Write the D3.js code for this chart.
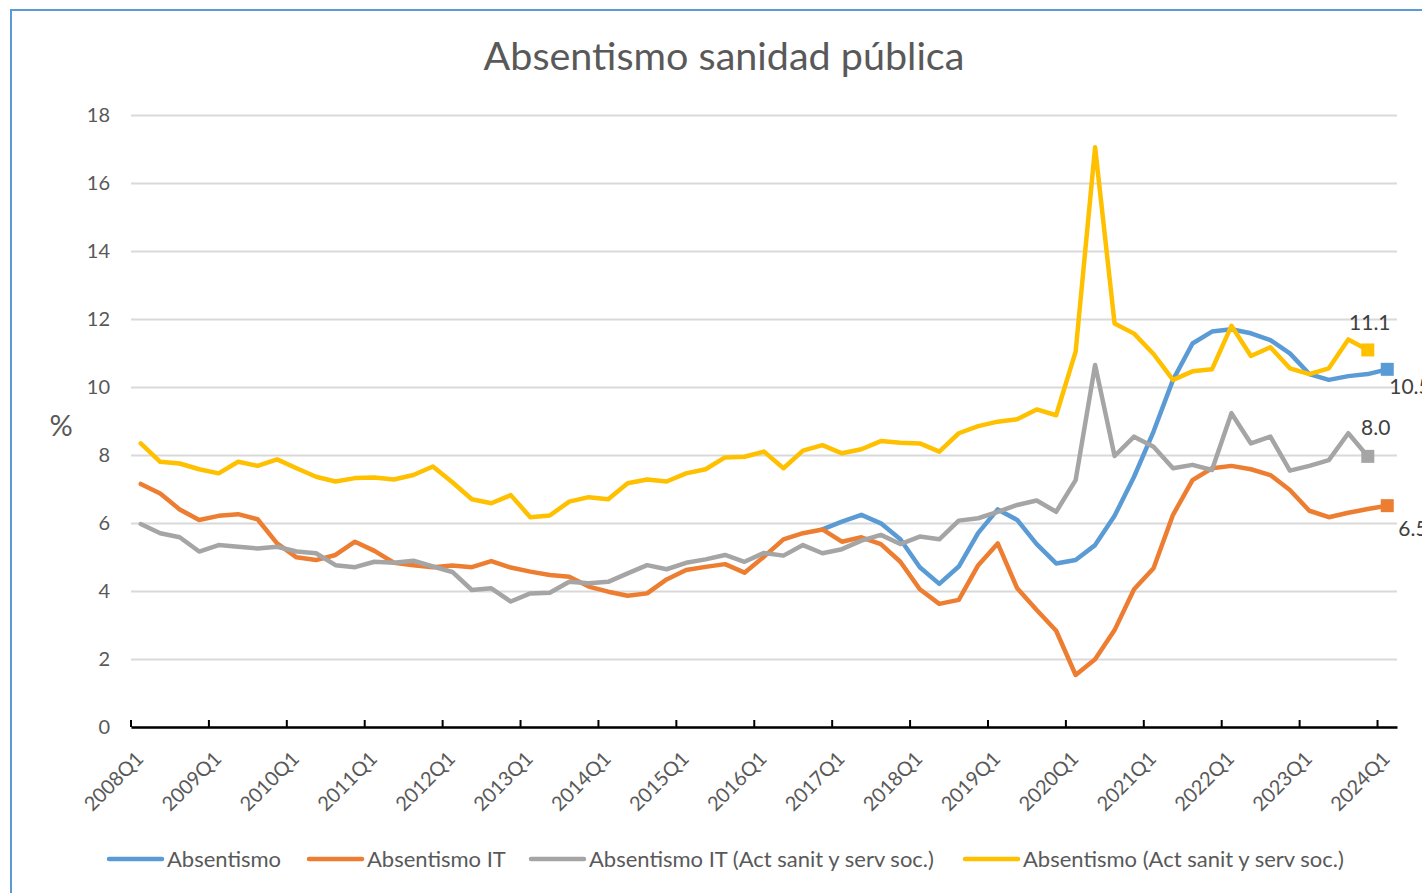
<!DOCTYPE html>
<html>
<head>
<meta charset="utf-8">
<script src="https://cdn.jsdelivr.net/npm/d3@7"></script>
<style>
  body { margin: 0; background: #fff; }
  svg { display: block; font-family: Lato, "Open Sans", sans-serif; }
</style>
</head>
<body>
<div id="chart"></div>
<script>
// Quarters 2008Q1 .. 2024Q1
const years = d3.range(2008, 2025);
const quarters = [];
years.forEach(y => [1, 2, 3, 4].forEach(q => quarters.push(y + "Q" + q)));
quarters.length = 65;

const tickLabels = quarters.filter(q => q.endsWith("Q1"));
const yTicks = [0, 2, 4, 6, 8, 10, 12, 14, 16, 18];

// Absentismo (only visible from 2016Q4, hidden under IT before)
const absentismo = [
  null, null, null, null, null, null, null, null, null, null,
  null, null, null, null, null, null, null, null, null, null,
  null, null, null, null, null, null, null, null, null, null,
  null, null, null, null, null, 5.81, 6.04, 6.24, 5.99, 5.52,
  4.70, 4.21, 4.72, 5.71, 6.40, 6.09, 5.38, 4.81, 4.91, 5.35,
  6.21, 7.36, 8.69, 10.21, 11.28, 11.63, 11.70, 11.58, 11.38, 10.99,
  10.38, 10.21, 10.32, 10.38, 10.52
];

// Absentismo IT
const absentismoIT = [
  7.15, 6.87, 6.40, 6.09, 6.21, 6.26, 6.11, 5.40, 4.99, 4.91,
  5.06, 5.45, 5.18, 4.83, 4.76, 4.70, 4.75, 4.70, 4.88, 4.69,
  4.57, 4.47, 4.42, 4.13, 3.98, 3.86, 3.93, 4.34, 4.62, 4.71,
  4.79, 4.54, 5.01, 5.52, 5.70, 5.81, 5.45, 5.58, 5.38, 4.86,
  4.05, 3.62, 3.74, 4.76, 5.40, 4.08, 3.44, 2.83, 1.53, 1.99,
  2.85, 4.05, 4.67, 6.24, 7.26, 7.61, 7.68, 7.58, 7.41, 6.97,
  6.36, 6.17, 6.30, 6.41, 6.51
];

// Absentismo IT (Act sanit y serv soc.)
const absentismoITSanit = [
  5.97, 5.70, 5.58, 5.16, 5.35, 5.30, 5.25, 5.30, 5.16, 5.11,
  4.76, 4.70, 4.86, 4.83, 4.89, 4.72, 4.56, 4.03, 4.08, 3.69,
  3.93, 3.95, 4.27, 4.23, 4.27, 4.52, 4.76, 4.64, 4.83, 4.93,
  5.06, 4.86, 5.12, 5.04, 5.35, 5.11, 5.23, 5.48, 5.65, 5.38,
  5.60, 5.52, 6.07, 6.14, 6.33, 6.53, 6.66, 6.33, 7.26, 10.65,
  7.97, 8.54, 8.24, 7.61, 7.71, 7.56, 9.23, 8.34, 8.54, 7.54,
  7.68, 7.85, 8.64, 7.96, null
];

// Absentismo (Act sanit y serv soc.)
const absentismoSanit = [
  8.34, 7.80, 7.75, 7.58, 7.46, 7.80, 7.68, 7.87, 7.61, 7.36,
  7.22, 7.32, 7.34, 7.28, 7.41, 7.66, 7.20, 6.70, 6.58, 6.82,
  6.17, 6.22, 6.63, 6.76, 6.70, 7.17, 7.28, 7.22, 7.46, 7.58,
  7.93, 7.95, 8.10, 7.61, 8.13, 8.29, 8.05, 8.17, 8.41, 8.36,
  8.34, 8.10, 8.64, 8.85, 8.98, 9.05, 9.34, 9.17, 11.04, 17.05,
  11.87, 11.57, 10.97, 10.21, 10.46, 10.52, 11.80, 10.91, 11.17, 10.55,
  10.38, 10.55, 11.40, 11.09, null
];

const seriesNames = [
  "Absentismo",
  "Absentismo IT",
  "Absentismo IT (Act sanit y serv soc.)",
  "Absentismo (Act sanit y serv soc.)"
];
const seriesValues = [absentismo, absentismoIT, absentismoITSanit, absentismoSanit];
const colors = ["#5B9BD5", "#ED7D31", "#A5A5A5", "#FFC000"];
// offsets of the end-value labels
const labelOffsets = [
  {dx: 2, dy: 25, anchor: "start"},
  {dx: 11, dy: 30, anchor: "start"},
  {dx: 8, dy: -21, anchor: "middle"},
  {dx: 2, dy: -20, anchor: "middle"}
];

const width = 1422, height = 893;
const plot = {left: 131, right: 1397, top: 115, bottom: 727};

const svg = d3.select("#chart")
  .append("svg")
  .attr("width", width)
  .attr("height", height);

svg.append("rect")
  .attr("width", width)
  .attr("height", height)
  .attr("fill", "#fff");

// chart border (cropped on right / bottom)
svg.append("rect")
  .attr("x", 11)
  .attr("y", 10)
  .attr("width", width + 20)
  .attr("height", height + 20)
  .attr("fill", "none")
  .attr("stroke", "#5B9BD5")
  .attr("stroke-width", 2);

const x = d3.scaleBand()
  .domain(quarters)
  .range([plot.left, plot.right])
  .padding(0);
const bw = x.bandwidth();
const cx = q => x(q) + bw / 2;

const y = d3.scaleLinear()
  .domain([0, 18])
  .range([plot.bottom, plot.top]);

// Gridlines + y labels
const yAxis = svg.append("g")
  .attr("transform", `translate(${plot.left},0)`)
  .call(d3.axisLeft(y).tickValues(yTicks).tickSize(-(plot.right - plot.left)).tickPadding(21));
yAxis.select(".domain").remove();
yAxis.selectAll(".tick line")
  .attr("stroke", "#D9D9D9")
  .attr("stroke-width", 2);
yAxis.selectAll(".tick text")
  .attr("fill", "#595959")
  .attr("font-size", "20px")
  .attr("font-family", "Lato, sans-serif");

// X axis
const xAxis = svg.append("g")
  .attr("transform", `translate(0,${plot.bottom})`)
  .call(d3.axisBottom(x).tickValues(tickLabels).tickSizeOuter(0));
xAxis.select(".domain")
  .attr("stroke", "#000")
  .attr("stroke-width", 2.5);
xAxis.selectAll(".tick line")
  .attr("x1", -bw / 2)
  .attr("x2", -bw / 2)
  .attr("y1", 0)
  .attr("y2", -7)
  .attr("stroke", "#000")
  .attr("stroke-width", 2);
xAxis.selectAll(".tick text")
  .attr("y", 0)
  .attr("dy", 0)
  .attr("text-anchor", "end")
  .attr("transform", "translate(4,33) rotate(-45)")
  .attr("fill", "#595959")
  .attr("font-size", "20px")
  .attr("font-family", "Lato, sans-serif");

// Lines
const line = d3.line()
  .defined(d => d != null)
  .x((d, i) => cx(quarters[i]))
  .y(d => y(d));

seriesValues.forEach((vals, s) => {
  svg.append("path")
    .datum(vals)
    .attr("fill", "none")
    .attr("stroke", colors[s])
    .attr("stroke-width", 4.5)
    .attr("stroke-linejoin", "round")
    .attr("stroke-linecap", "round")
    .attr("d", line);
});

// End markers + value labels
seriesValues.forEach((vals, s) => {
  let last = vals.length - 1;
  while (vals[last] == null) last--;
  const px = cx(quarters[last]), py = y(vals[last]);
  svg.append("rect")
    .attr("x", px - 6.5)
    .attr("y", py - 6.5)
    .attr("width", 13)
    .attr("height", 13)
    .attr("fill", colors[s]);
  svg.append("text")
    .attr("x", px + labelOffsets[s].dx)
    .attr("y", py + labelOffsets[s].dy)
    .attr("text-anchor", labelOffsets[s].anchor)
    .attr("font-size", "21px")
    .attr("fill", "#404040")
    .text(vals[last].toFixed(1));
});

// Title
svg.append("text")
  .attr("x", 724)
  .attr("y", 70)
  .attr("text-anchor", "middle")
  .attr("font-size", "39.5px")
  .attr("fill", "#595959")
  .text("Absentismo sanidad pública");

// Y-axis label
svg.append("text")
  .attr("x", 61)
  .attr("y", 436)
  .attr("text-anchor", "middle")
  .attr("font-size", "29px")
  .attr("fill", "#595959")
  .text("%");

// Legend
const legendX = [107, 307, 529, 963];
const legend = svg.append("g")
  .attr("transform", "translate(0,859)");
seriesNames.forEach((name, s) => {
  legend.append("line")
    .attr("x1", legendX[s] + 2)
    .attr("x2", legendX[s] + 55)
    .attr("stroke", colors[s])
    .attr("stroke-width", 4.5)
    .attr("stroke-linecap", "round");
  legend.append("text")
    .attr("x", legendX[s] + 60)
    .attr("y", 8)
    .attr("font-size", "22px")
    .attr("fill", "#595959")
    .text(name);
});
</script>
</body>
</html>
